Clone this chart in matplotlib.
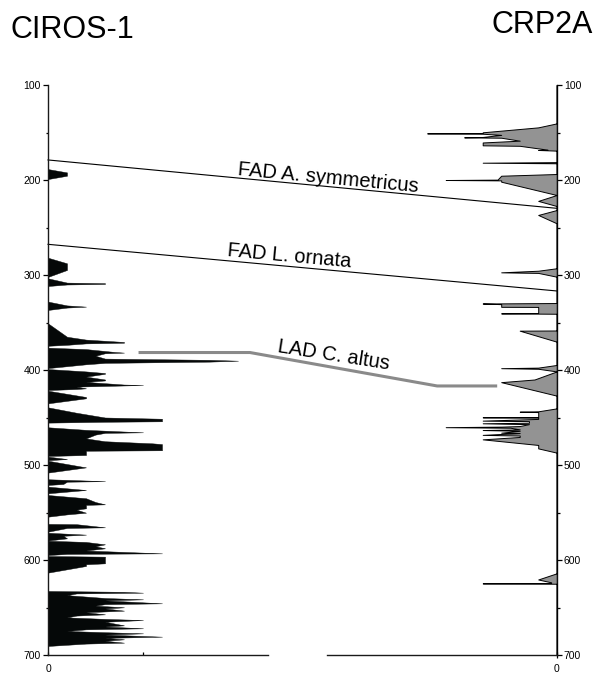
import math
import matplotlib
matplotlib.use("Agg")
import matplotlib.pyplot as plt
from matplotlib.transforms import blended_transform_factory

plt.rcParams['font.family'] = ['Liberation Sans', 'DejaVu Sans']

# -----------------------------
# Data (depth in m, abundance counts)
# -----------------------------
ciros_depth = [
    100, 188.5, 192, 195.5, 199,
    281.8, 287.7, 294.7, 302,
    303.5, 308, 308.6, 309.4, 310, 311.6,
    328, 332, 333.3, 334.3, 336.8,
    350.9, 365, 368, 370.5, 371.3, 372, 373.5, 374.5,
    376.5, 378, 381, 381.7, 382.4, 385, 388, 389.3, 390.2, 391.2, 392.5, 394, 398,
    399, 401.5, 403.2, 404, 407, 410, 411, 412.5, 415.3, 415.8, 416.3, 417.5, 419.3, 420, 421.1,
    421.8, 428.4, 429.8, 435.1,
    439.3, 445, 450, 451.3, 454, 454.5, 455.4,
    460.3, 463, 465.2, 465.6, 466.2, 468, 472, 475, 477.2, 478, 484.5, 485, 489.5, 490.5,
    491.2, 493.7, 495,
    495.5, 502.5, 508,
    515, 517, 517.6, 520, 521,
    522.8, 526.3, 529.8,
    531.6, 535, 539, 541.4, 542, 545.6, 547, 550.2, 552, 554.4,
    562, 562.3, 565.6, 566.3, 570.2,
    571.3, 573.3, 574.5, 577.2, 579.5,
    579.7, 581, 583.5, 585.5, 587.7, 590, 593, 593.6, 594.8,
    595.8, 596.5, 603.5, 604.5, 606.3, 613.3,
    632.6, 633.5, 634.4, 635.2, 637, 640, 641.4, 642.5, 645.6, 646.5, 648, 649.8, 651,
    653.3, 655, 657.2, 658.5, 660.4, 662, 663.2, 665, 668.8, 670, 671.9, 673, 674.7,
    676, 677.2, 678.5, 680.7, 682, 683.5, 685, 687, 688, 690.5,
    700,
]
ciros_value = [
    0, 0, 1, 1, 0,
    0, 1, 1, 0,
    0, 1, 3, 3, 1, 0,
    0, 1, 2, 1, 0,
    0, 1, 2, 4, 4, 2, 1, 0,
    0, 2, 3.5, 4, 3, 2.5, 3, 8.5, 10, 8.5, 3, 2, 0,
    0, 2, 3, 3, 2, 3, 3, 2, 4, 5, 4, 1.5, 2, 1.5, 0,
    0, 2, 2, 0,
    0, 1.5, 3, 6, 6, 3, 0,
    0, 2, 4.5, 5, 3, 2.5, 2, 3, 5.5, 6, 6, 2, 2, 0,
    0, 1, 0,
    0, 2, 0,
    0, 3, 1, 0.8, 0,
    0, 2, 0,
    0, 2, 2.5, 3, 2, 2, 1.5, 2, 1, 0,
    0, 1.5, 3, 1, 0,
    0, 2, 0.8, 1, 0,
    0, 2, 3, 2.5, 3, 2, 6, 1, 0,
    0, 3, 3, 2, 2, 0,
    0, 4, 5, 1.5, 1, 3, 5, 3, 6, 3, 2.5, 4, 3,
    4, 2, 3, 1.5, 1, 3, 5, 3, 4, 3, 5, 2, 1,
    3, 5, 3, 6, 3, 4, 3, 4, 2, 0,
    0,
]

crp_depth = [
    100, 140.4, 144.6, 149.8, 150.5, 150.9, 151.3, 152.5, 154.7, 155.1, 155.5, 158.6,
    160.5, 163.5, 164, 166.7, 168, 168.4, 169.1,
    181.2, 181.8, 182.4,
    193.7, 195.5, 199.6, 200, 200.4, 201.8, 215.8,
    222, 227.4,
    231.6, 236.8, 245.6,
    292.9, 295.5, 297.2, 297.8, 301.8,
    329.5, 330, 330.7, 333.5, 333.6, 340, 340.4, 340.8,
    358.4, 358.6, 370.2,
    394.7, 397.5, 398.1, 398.7, 401.5, 410, 412.8, 427,
    440.4, 443.5, 443.9, 444.3, 446.3, 449.5, 449.8, 450.2, 451.5, 453.3, 453.8, 455.5,
    456.1, 457, 459, 459.6, 460.2, 460.8, 462.5, 463.2, 464, 466, 466.4, 468.3, 469,
    470.5, 473, 478.9, 482.5, 487,
    614, 620.5, 623.5, 624.2, 624.6, 625,
    700,
]
crp_value = [
    0, 0, 1, 4, 4, 7, 4, 3, 4, 5, 3, 2,
    4, 4, 2, 1, 0.5, 1, 0,
    0, 4, 0,
    0, 3, 3.2, 6, 3, 3, 0,
    1, 0,
    0, 1, 0,
    0, 1, 3, 1, 0,
    0, 4, 3, 3, 1, 1, 3, 0,
    0, 2, 0,
    0, 1, 3, 1, 0, 1.2, 3, 0,
    0, 1, 2, 1, 1, 1, 4, 1, 1, 4, 1.5, 1.5,
    4, 1.5, 2, 3, 6, 2.5, 2, 4, 2, 3, 2, 4, 2,
    2, 4, 1, 1, 0,
    0, 1, 0.3, 0.3, 4, 0,
    0,
]

# correlation datums: depth at CIROS-1 and CRP2A
fad_names = ["FAD A. symmetricus", "FAD L. ornata"]
fad_ciros = [178.9, 267.7]
fad_crp = [229.8, 316.8]

# LAD C. altus trace (fraction across panel, depth)
lad_x = [0.181, 0.397, 0.765, 0.880]
lad_depth = [381.6, 381.6, 416.8, 416.8]

# -----------------------------
# Layout
# -----------------------------
fig = plt.figure(figsize=(6, 6.75), dpi=100)
ax = fig.add_axes([48 / 600, 20 / 675, 508.7 / 600, 570 / 675])
ax.set_ylim(700, 100)
ax.set_xlim(0, 508.7 / 19.0)

ax2 = ax.twiny()
ax2.set_xlim(508.7 / 18.5, 0)

for s in ["top", "bottom"]:
    ax.spines[s].set_visible(False)
for s in ["left", "right"]:
    ax.spines[s].set_linewidth(1.0)
    ax.spines[s].set_color("#1a1a1a")
for s in ax2.spines.values():
    s.set_visible(False)

# depth ticks on both sides
ax.set_yticks(range(100, 701, 100))
ax.set_yticks(range(150, 700, 100), minor=True)
ax.tick_params(axis="y", which="both", direction="out", left=True, right=True,
               labelleft=True, labelright=True, labelsize=7.5, pad=1.5, width=0.9)
ax.tick_params(axis="y", which="major", length=3.6)
ax.tick_params(axis="y", which="minor", length=1.8)

# bottom scale
ax.set_xticks([0, 5])
ax.set_xticklabels(["0", ""])
ax.tick_params(axis="x", direction="in", length=2.5, labelsize=7.5, pad=6.5, width=0.9)
ax2.xaxis.set_ticks_position("bottom")
ax2.xaxis.set_label_position("bottom")
ax2.set_xticks([0])
ax2.set_xticklabels(["0"])
ax2.tick_params(axis="x", direction="inout", length=5, labelsize=7.5, pad=4, width=0.9)

ax.plot([0, 11.6], [700, 700], color="#1a1a1a", lw=1.0, clip_on=False)
ax2.plot([0, 12.4], [700, 700], color="#1a1a1a", lw=1.0, clip_on=False)

# -----------------------------
# Logs
# -----------------------------
ax.fill_betweenx(ciros_depth, 0, ciros_value, facecolor="#050808",
                 edgecolor="#050808", lw=0.3)
ax2.fill_betweenx(crp_depth, 0, crp_value, facecolor="#939393",
                  edgecolor="black", lw=0.7)

# -----------------------------
# Correlation lines
# -----------------------------
trans = blended_transform_factory(ax.transAxes, ax.transData)


def screen_angle(x0, d0, x1, d1):
    p0 = trans.transform((x0, d0))
    p1 = trans.transform((x1, d1))
    return math.degrees(math.atan2(p1[1] - p0[1], p1[0] - p0[0]))


for d0, d1 in zip(fad_ciros, fad_crp):
    ax.plot([0, 1], [d0, d1], color="black", lw=0.8, transform=trans, clip_on=False)

ax.plot(lad_x, lad_depth, color="#8a8a8a", lw=2.2, transform=trans,
        solid_joinstyle="miter")

label_x = [0.549, 0.474, 0.559]
label_depth = [203.5, 286.0, 390.0]
angles = [screen_angle(0, fad_ciros[0], 1, fad_crp[0]),
          screen_angle(0, fad_ciros[1], 1, fad_crp[1]),
          screen_angle(lad_x[1], lad_depth[1], lad_x[2], lad_depth[2]) + 1.2]
labels = fad_names + ["LAD C. altus"]
for txt, lx, ld, ang in zip(labels, label_x, label_depth, angles):
    ax.text(lx, ld, txt, transform=trans, ha="center", va="baseline",
            rotation=ang, rotation_mode="anchor", fontsize=14.5)

# titles
fig.text(10 / 600, 1 - 38 / 675, "CIROS-1", fontsize=22, ha="left", va="baseline")
fig.text(593 / 600, 1 - 33 / 675, "CRP2A", fontsize=22, ha="right", va="baseline")

fig.savefig("out.png", dpi=100)
